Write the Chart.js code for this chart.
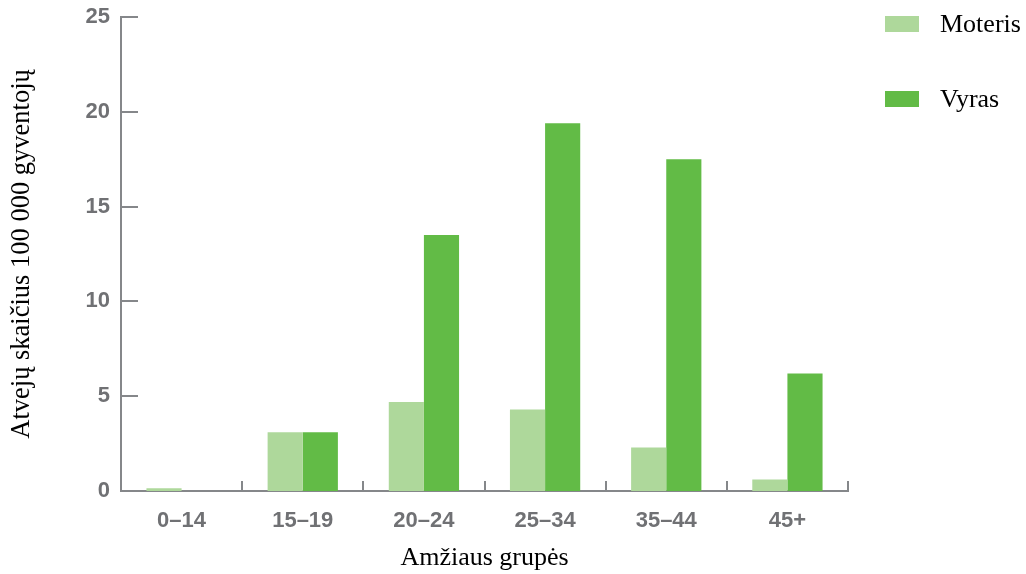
<!DOCTYPE html>
<html lang="lt">
<head>
<meta charset="utf-8">
<script src="https://cdn.jsdelivr.net/npm/chart.js@4/dist/chart.umd.min.js"></script>
<style>
  html, body { margin: 0; padding: 0; background: #ffffff; }
  #wrap { width: 1026px; height: 574px; position: relative; }
</style>
</head>
<body>
<div id="wrap"><canvas id="c" width="1026" height="574"></canvas></div>
<script>
// Age groups and rates per 100 000 inhabitants
const ageGroups = ['0–14', '15–19', '20–24', '25–34', '35–44', '45+'];
const femaleRates = [0.15, 3.1, 4.7, 4.3, 2.3, 0.6];
const maleRates = [0, 3.1, 13.5, 19.4, 17.5, 6.2];
const yTickValues = [0, 5, 10, 15, 20, 25];

const seriesNames = ['Moteris', 'Vyras'];
const seriesColors = ['#aed89b', '#62bb46'];
const axisColor = '#85878a';
const tickTextColor = '#707174';

// Short inward tick marks on both axes
const innerTicks = {
  id: 'innerTicks',
  afterDatasetsDraw(chart) {
    const { ctx, chartArea, scales } = chart;
    const x = scales.x, y = scales.y;
    ctx.save();
    ctx.strokeStyle = axisColor;
    ctx.lineWidth = 2;
    y.ticks.forEach(t => {
      const py = Math.round(y.getPixelForValue(t.value));
      ctx.beginPath();
      ctx.moveTo(chartArea.left, py);
      ctx.lineTo(chartArea.left + 17, py);
      ctx.stroke();
    });
    const half = (x.getPixelForValue(1) - x.getPixelForValue(0)) / 2;
    for (let i = 1; i <= ageGroups.length; i++) {
      const px = Math.round(x.getPixelForValue(i) - half);
      ctx.beginPath();
      ctx.moveTo(px, chartArea.bottom);
      ctx.lineTo(px, chartArea.bottom - 10);
      ctx.stroke();
    }
    ctx.restore();
  }
};

// Legend column on the right
const sideLegend = {
  id: 'sideLegend',
  afterDraw(chart) {
    const { ctx } = chart;
    ctx.save();
    chart.data.datasets.forEach((ds, i) => {
      const cy = 24 + i * 75;
      ctx.fillStyle = ds.backgroundColor;
      ctx.fillRect(885, cy - 8, 34, 16);
      ctx.fillStyle = '#000000';
      ctx.font = '26px "Liberation Serif", "Times New Roman", serif';
      ctx.textBaseline = 'middle';
      ctx.textAlign = 'left';
      ctx.fillText(ds.label, 940, cy + 1);
    });
    ctx.restore();
  }
};

new Chart(document.getElementById('c'), {
  type: 'bar',
  data: {
    labels: ageGroups,
    datasets: [
      { label: seriesNames[0], data: femaleRates, backgroundColor: seriesColors[0] },
      { label: seriesNames[1], data: maleRates, backgroundColor: seriesColors[1] }
    ]
  },
  options: {
    responsive: false,
    animation: false,
    devicePixelRatio: 1,
    layout: { padding: { top: 17, right: 178, bottom: 0, left: 0 } },
    datasets: { bar: { categoryPercentage: 0.58, barPercentage: 1.0 } },
    plugins: {
      legend: { display: false },
      tooltip: { enabled: false }
    },
    scales: {
      x: {
        grid: { display: false, drawTicks: false },
        border: { display: true, color: axisColor, width: 2 },
        ticks: {
          color: tickTextColor,
          padding: 17,
          font: { family: '"Liberation Sans Narrow", "Liberation Sans", sans-serif', size: 22, weight: 'bold' }
        },
        title: {
          display: true,
          text: 'Amžiaus grupės',
          color: '#000000',
          padding: { top: 0, bottom: 0 },
          font: { family: '"Liberation Serif", "Times New Roman", serif', size: 26 }
        },
        afterFit(scale) { scale.height = 83; }
      },
      y: {
        min: 0,
        max: 25,
        afterBuildTicks(scale) { scale.ticks = yTickValues.map(v => ({ value: v })); },
        grid: { display: false, drawTicks: false },
        border: { display: true, color: axisColor, width: 2 },
        ticks: {
          color: tickTextColor,
          padding: 11,
          font: { family: '"Liberation Sans Narrow", "Liberation Sans", sans-serif', size: 22, weight: 'bold' }
        },
        title: {
          display: true,
          text: 'Atvejų skaičius 100 000 gyventojų',
          color: '#000000',
          padding: { top: 6, bottom: 0 },
          font: { family: '"Liberation Serif", "Times New Roman", serif', size: 26.5 }
        },
        afterFit(scale) {
          scale.width = 121;
          scale.paddingTop = 0;
          scale.paddingBottom = 0;
        }
      }
    }
  },
  plugins: [innerTicks, sideLegend]
});
</script>
</body>
</html>
